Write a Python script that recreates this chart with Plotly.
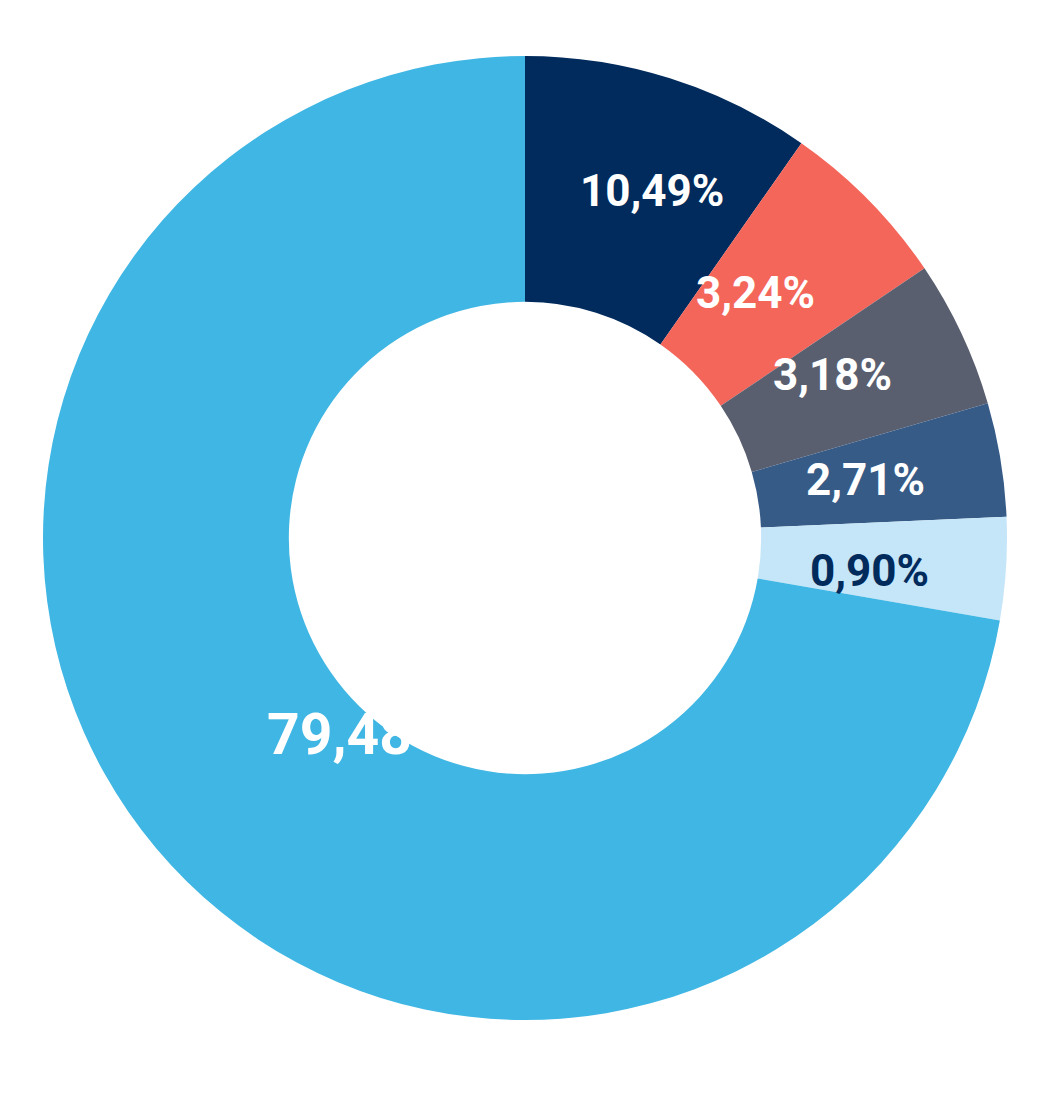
import math
import plotly.graph_objects as go

labels = ["A", "B", "C", "D", "E", "F"]
# slice sizes as drawn in the reference (angular shares), labels as printed
values = [9.72, 5.83, 4.94, 3.81, 3.44, 72.26]
text_labels = ["10,49%", "3,24%", "3,18%", "2,71%", "0,90%", "79,48%"]
colors = ["#002B5C", "#F4665A", "#5A5F70", "#365B87", "#C5E5F8", "#3FB6E3"]
text_colors = ["white", "white", "white", "white", "#002B5C", "white"]

W, H = 1050, 1095
cx, cy, R = 524, 537, 482
dx_off, dy_off = -7, -7

fig = go.Figure(go.Pie(
    labels=labels, values=values, hole=0.49, sort=False, direction="clockwise",
    rotation=0, marker=dict(colors=colors, line=dict(width=0)),
    textinfo="none", hoverinfo="skip", showlegend=False,
    domain=dict(x=[(cx - R + dx_off) / W, (cx + R + dx_off) / W],
                y=[1 - (cy + R + dy_off) / H, 1 - (cy - R + dy_off) / H]),
))

total = sum(values)
cum = 0
anns = []
for v, t, tc in zip(values, text_labels, text_colors):
    mid = (cum + v / 2) / total * 2 * math.pi
    cum += v
    big = v > 50
    r = R * (0.725 if big else 0.83)
    px = cx + r * math.sin(mid)
    py = cy - r * math.cos(mid)
    anns.append(dict(x=px / W, y=1 - py / H, xref="paper", yref="paper", text=f"<b>{t}</b>",
                     showarrow=False, font=dict(family="Roboto", size=57 if big else 44, color=tc)))

fig.update_layout(width=W, height=H, margin=dict(l=0, r=0, t=0, b=0),
                  paper_bgcolor="white", plot_bgcolor="white", annotations=anns)
fig.write_html("out.html")
